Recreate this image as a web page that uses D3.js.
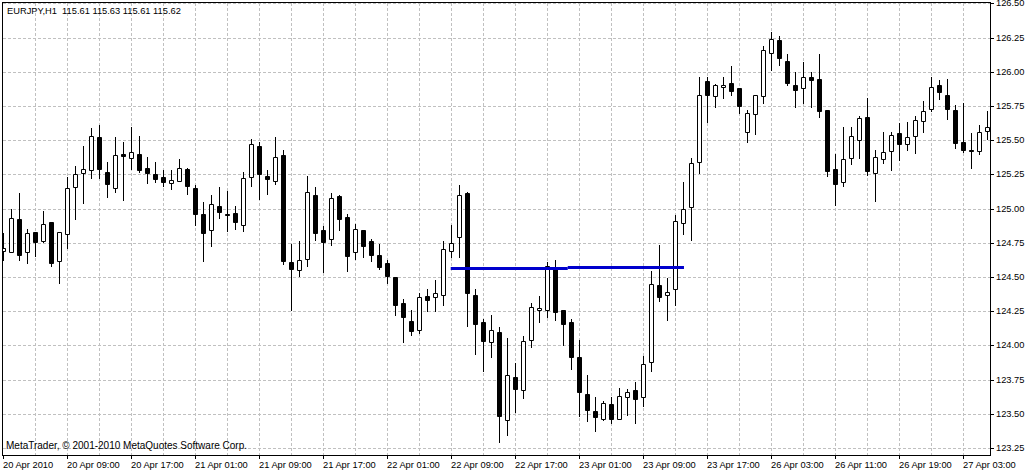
<!DOCTYPE html>
<html><head><meta charset="utf-8">
<script src="https://cdn.jsdelivr.net/npm/d3@7"></script>
<style>
html,body{margin:0;padding:0;background:#fff;overflow:hidden}
svg{display:block;font-family:"Liberation Sans",Arial,sans-serif}
</style></head><body>
<svg id="c" width="1028" height="472"></svg>
<script>
// ---- data (EURJPY H1, one value per bar) ----
const opens = [124.690,124.685,124.921,124.685,124.826,124.765,124.899,124.619,124.812,125.155,
125.257,125.279,125.521,125.265,125.148,125.396,125.372,125.396,125.295,125.253,
125.231,125.185,125.200,125.290,125.151,124.958,124.841,125.019,124.960,124.966,
124.878,125.229,125.458,125.239,125.204,125.392,124.607,124.551,124.629,125.099,
124.841,124.775,125.092,124.936,124.685,124.841,124.763,124.658,124.600,124.497,
124.307,124.178,124.115,124.361,124.351,124.366,124.687,124.790,125.112,124.368,
124.168,124.022,124.095,123.454,123.766,123.671,124.037,124.256,124.256,124.570,
124.259,124.171,123.912,123.642,123.520,123.464,123.569,123.459,123.620,123.671,
123.620,123.876,124.439,124.366,124.410,124.897,125.009,125.338,125.930,125.820,
125.886,125.915,125.879,125.557,125.689,125.820,126.135,126.230,126.076,125.901,
125.879,125.959,125.945,125.718,125.287,125.198,125.367,125.499,125.667,125.262,
125.360,125.418,125.550,125.469,125.528,125.637,125.725,125.901,125.828,125.718,
125.484,125.425,125.418,125.564];
const highs = [124.819,124.997,125.114,124.851,124.830,124.982,124.900,124.830,125.231,125.311,
125.457,125.591,125.611,125.338,125.521,125.484,125.594,125.530,125.374,125.341,
125.282,125.282,125.363,125.297,125.173,125.048,125.100,125.158,125.131,125.017,
125.268,125.509,125.485,125.282,125.524,125.429,124.741,124.763,125.241,125.160,
124.873,125.116,125.099,124.960,124.887,124.841,124.778,124.741,124.624,124.497,
124.339,124.258,124.380,124.412,124.478,124.765,124.880,125.172,125.119,124.412,
124.190,124.222,124.137,124.054,123.873,124.071,124.310,124.361,124.607,124.624,
124.259,124.195,124.039,123.783,123.620,123.596,123.620,123.686,123.681,123.732,
123.922,124.544,124.734,124.493,124.953,125.197,125.370,125.962,125.959,125.911,
125.959,126.042,125.879,125.720,125.828,126.186,126.288,126.259,126.127,125.996,
126.069,125.996,126.127,125.718,125.399,125.595,125.596,125.676,125.808,125.428,
125.559,125.559,125.623,125.630,125.674,125.784,125.959,125.940,125.945,125.754,
125.769,125.550,125.608,125.711];
const lows = [124.624,124.685,124.624,124.604,124.656,124.758,124.582,124.458,124.714,124.924,
125.043,125.226,125.221,125.087,125.123,125.063,125.289,125.270,125.185,125.197,
125.168,125.144,125.200,125.109,124.880,124.620,124.729,124.934,124.836,124.854,
124.839,125.168,125.073,125.107,125.180,124.595,124.257,124.507,124.580,124.770,
124.539,124.736,124.843,124.546,124.631,124.648,124.617,124.556,124.458,124.224,
124.027,124.078,124.093,124.254,124.254,124.295,124.648,124.648,124.144,123.939,
123.815,123.913,123.291,123.345,123.515,123.618,123.986,124.171,124.210,124.185,
124.003,123.827,123.486,123.449,123.376,123.454,123.435,123.459,123.493,123.435,
123.559,123.815,124.327,124.188,124.298,124.817,124.773,125.260,125.633,125.740,
125.806,125.833,125.696,125.484,125.547,125.774,126.015,126.052,125.901,125.740,
125.774,125.740,125.672,125.236,125.028,125.168,125.328,125.372,125.247,125.057,
125.335,125.284,125.357,125.425,125.408,125.557,125.711,125.798,125.657,125.440,
125.411,125.294,125.396,125.506];
const closes = [124.709,124.929,124.660,124.819,124.758,124.885,124.604,124.826,125.148,125.250,
125.287,125.528,125.287,125.177,125.389,125.387,125.411,125.282,125.263,125.217,
125.197,125.209,125.295,125.168,124.963,124.824,125.031,124.978,124.956,124.900,
125.221,125.473,125.251,125.217,125.375,124.620,124.555,124.624,125.119,124.819,
124.758,125.075,124.926,124.656,124.848,124.729,124.663,124.575,124.509,124.297,
124.210,124.107,124.351,124.334,124.383,124.702,124.746,125.099,124.385,124.159,
124.034,124.110,123.486,123.781,123.683,124.029,124.278,124.271,124.578,124.246,
124.159,123.917,123.657,123.530,123.479,123.576,123.464,123.627,123.657,123.610,
123.861,124.446,124.356,124.388,124.907,124.995,125.331,125.828,125.828,125.901,
125.901,125.857,125.747,125.696,125.828,126.157,126.237,126.098,125.915,125.864,
125.964,125.937,125.711,125.277,125.182,125.360,125.528,125.659,125.277,125.374,
125.411,125.535,125.474,125.523,125.645,125.711,125.886,125.850,125.725,125.477,
125.425,125.418,125.557,125.594];

const xTickBars   = [0,8,16,24,32,40,48,56,64,72,80,88,96,104,112,120];
const xTickLabels = ["20 Apr 2010","20 Apr 09:00","20 Apr 17:00","21 Apr 01:00","21 Apr 09:00",
  "21 Apr 17:00","22 Apr 01:00","22 Apr 09:00","22 Apr 17:00","23 Apr 01:00","23 Apr 09:00",
  "23 Apr 17:00","26 Apr 03:00","26 Apr 11:00","26 Apr 19:00","27 Apr 03:00"];
const yTickValues = [123.25,123.50,123.75,124.00,124.25,124.50,124.75,125.00,125.25,125.50,125.75,126.00,126.25,126.50];
const gridBars    = [4,8,12,16,20,24,28,32,36,40,44,48,52,56,60,64,68,72,76,80,84,88,92,96,100,104,108,112,116,120];

// horizontal level line (two segments), in bar units and price
const levelFrom  = [55.9, 70.53];
const levelTo    = [70.53, 85.06];
const levelPrice = [124.563, 124.570];

const titleText  = "EURJPY,H1  115.61 115.63 115.61 115.62";
const footerText = "MetaTrader, \u00A9 2001-2010 MetaQuotes Software Corp.";

// ---- layout ----
const L = 2, R = 990, T = 2, B = 455;
const FS = "9.3px";
const svg = d3.select("#c");

const x = d3.scaleLinear().domain([0, 123]).range([3, 987]);
const y = d3.scaleLinear().domain([123.25, 126.5]).range([448, 3.4]).interpolate(d3.interpolateRound);

svg.append("defs").append("clipPath").attr("id","plot")
  .append("rect").attr("x", L+1).attr("y", T+1).attr("width", R-L-1).attr("height", B-T-1);

// grid
const grid = svg.append("g").attr("stroke", "#c0c0c0").attr("stroke-dasharray", "3,2").attr("stroke-width", 1);
grid.selectAll("line.h").data(yTickValues).join("line").attr("class","h")
  .attr("x1", L+1).attr("x2", R).attr("y1", d => y(d)+0.5).attr("y2", d => y(d)+0.5);
grid.selectAll("line.v").data(gridBars).join("line").attr("class","v")
  .attr("y1", T+1).attr("y2", B).attr("x1", d => x(d)+0.5).attr("x2", d => x(d)+0.5);

// candles
const bars = d3.range(opens.length).map(i => ({i, o: opens[i], h: highs[i], l: lows[i], c: closes[i]}));
const cg = svg.append("g").attr("clip-path", "url(#plot)");
cg.selectAll("line.wick").data(bars).join("line").attr("class","wick")
  .attr("x1", d => x(d.i)+0.5).attr("x2", d => x(d.i)+0.5)
  .attr("y1", d => y(d.h)).attr("y2", d => y(d.l)+1)
  .attr("stroke", "#000").attr("stroke-width", 1);
cg.selectAll("path.body").data(bars).join("path").attr("class","body")
  .attr("d", d => {
    const top = y(Math.max(d.o, d.c)), bot = y(Math.min(d.o, d.c));
    return `M${x(d.i)-1.5},${top+0.5}h4v${bot-top}h-4Z`;
  })
  .attr("fill", d => d.c >= d.o ? "#fff" : "#000")
  .attr("stroke", "#000").attr("stroke-width", 1);

// level line
const lv = d3.range(levelFrom.length).map(k => ({a: levelFrom[k], b: levelTo[k], p: levelPrice[k]}));
svg.append("g").selectAll("line").data(lv).join("line")
  .attr("x1", d => x(d.a)+0.5).attr("x2", d => x(d.b)+0.5)
  .attr("y1", d => y(d.p)+0.5).attr("y2", d => y(d.p)+0.5)
  .attr("stroke", "#0000CD").attr("stroke-width", 3);

// frame
svg.append("rect").attr("x", L+0.5).attr("y", T+0.5).attr("width", R-L).attr("height", B-T)
  .attr("fill", "none").attr("stroke", "#000").attr("stroke-width", 1);

// right axis
const ya = svg.append("g").attr("transform", `translate(${R},0)`)
  .call(d3.axisRight(y).tickValues(yTickValues).tickSize(4).tickSizeOuter(0).tickPadding(2)
        .tickFormat(d3.format(".2f")));
ya.select(".domain").remove();
ya.attr("font-family", null).attr("font-size", null);
ya.selectAll("text").attr("font-size", FS).attr("fill", "#000");
ya.selectAll("line").attr("stroke", "#000");

// bottom axis
const xa = svg.append("g").attr("transform", `translate(0,${B})`)
  .call(d3.axisBottom(x).tickValues(xTickBars).tickSize(4).tickSizeOuter(0)
        .tickFormat((d, k) => xTickLabels[k]));
xa.select(".domain").remove();
xa.attr("font-family", null).attr("font-size", null);
xa.selectAll("line").attr("stroke", "#000");
xa.selectAll("text").attr("font-size", FS).attr("fill", "#000")
  .attr("text-anchor", "start").attr("x", -0.5).attr("y", 12.5).attr("dy", null);

// texts
svg.append("text").attr("x", 7).attr("y", 14).attr("font-size", FS).attr("fill", "#000")
  .style("white-space", "pre").text(titleText);
svg.append("text").attr("x", 6).attr("y", 449).attr("font-size", "10px").attr("fill", "#000")
  .text(footerText);
</script>
</body></html>
